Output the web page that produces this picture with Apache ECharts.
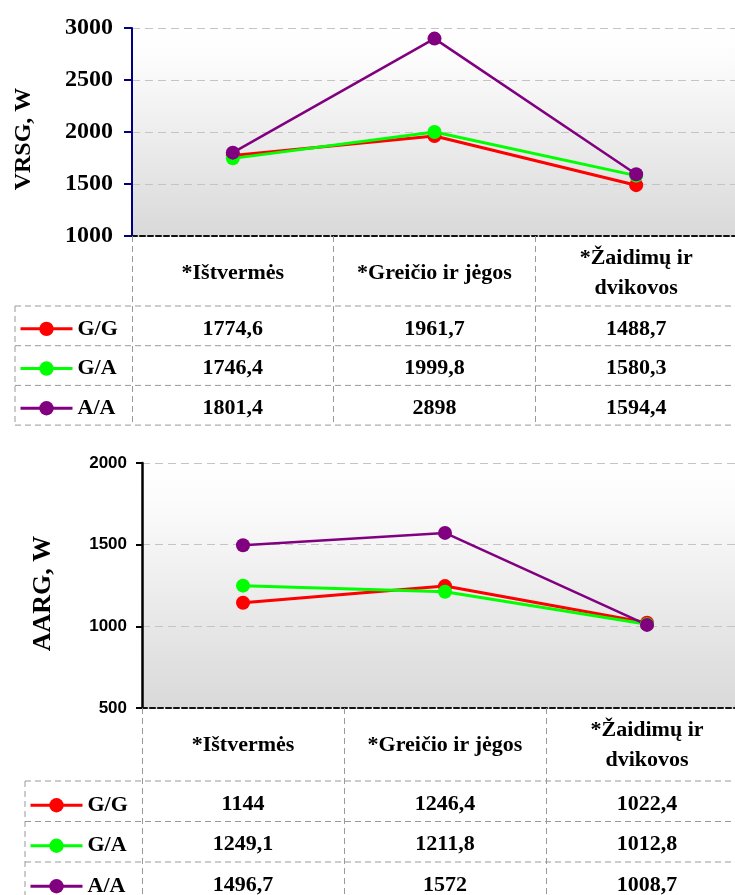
<!DOCTYPE html>
<html>
<head>
<meta charset="utf-8">
<script src="https://cdn.jsdelivr.net/npm/echarts@6/dist/echarts.min.js"></script>
<style>
  html, body { margin: 0; padding: 0; background: #fff; }
  #main { width: 735px; height: 895px; }
</style>
</head>
<body>
<div id="main"></div>
<script>
// categories and groups
const categories = ["*Ištvermės", "*Greičio ir jėgos", "*Žaidimų ir\ndvikovos"];
const groupNames = ["G/G", "G/A", "A/A"];
const groupColors = ["#ff0000", "#00ff00", "#800080"];

// VRSG, W (top chart)
const vrsgGG = [1774.6, 1961.7, 1488.7];
const vrsgGA = [1746.4, 1999.8, 1580.3];
const vrsgAA = [1801.4, 2898, 1594.4];

// AARG, W (bottom chart)
const aargGG = [1144, 1246.4, 1022.4];
const aargGA = [1249.1, 1211.8, 1012.8];
const aargAA = [1496.7, 1572, 1008.7];

const vrsg = [vrsgGG, vrsgGA, vrsgAA];
const aarg = [aargGG, aargGA, aargAA];

const serif = "Liberation Serif";
const sans = "Liberation Sans";

const chart = echarts.init(document.getElementById("main"));

const plotBg = new echarts.graphic.LinearGradient(0, 0, 0, 1, [
  { offset: 0, color: "#ffffff" },
  { offset: 0.15, color: "#fcfcfc" },
  { offset: 1, color: "#d9d9d9" },
]);

function xAxisFor(gridIndex, tickLen) {
  return {
    type: "category",
    gridIndex: gridIndex,
    data: categories,
    boundaryGap: true,
    axisLine: { lineStyle: { color: "#111", width: 2, type: [5, 3] } },
    axisTick: {
      show: true,
      length: tickLen,
      lineStyle: { color: "#999", width: 1, type: [6, 4] },
    },
    axisLabel: {
      interval: 0,
      margin: 37,
      verticalAlign: "middle",
      color: "#000",
      fontFamily: serif,
      fontWeight: "bold",
      fontSize: 22,
      lineHeight: 30,
    },
    splitLine: { show: false },
  };
}

function seriesFor(values, gridIndex) {
  return values.map((data, i) => ({
    type: "line",
    name: groupNames[i],
    xAxisIndex: gridIndex,
    yAxisIndex: gridIndex,
    data: data,
    symbol: "circle",
    symbolSize: 14,
    color: groupColors[i],
    lineStyle: { width: i === 2 ? 2.5 : 3, color: groupColors[i] },
    itemStyle: { color: groupColors[i] },
  }));
}

function legendFor(left, top, lineHeight) {
  return {
    data: groupNames,
    orient: "vertical",
    left: left,
    top: top,
    height: 140,
    padding: 0,
    itemWidth: 52,
    itemHeight: 18,
    itemGap: 0,
    selectedMode: false,
    lineStyle: { width: 3 },
    textStyle: {
      color: "#000",
      fontFamily: serif,
      fontWeight: "bold",
      fontSize: 22,
      lineHeight: lineHeight,
    },
  };
}

const plainNumber = (v) => String(v);

chart.setOption({
  animation: false,
  backgroundColor: "#fff",
  grid: [
    { left: 132, top: 28, width: 605, height: 208, show: true, backgroundColor: plotBg, borderWidth: 0, outerBoundsMode: "none" },
    { left: 142, top: 463, width: 606, height: 245, show: true, backgroundColor: plotBg, borderWidth: 0, outerBoundsMode: "none" },
  ],
  legend: [legendFor(19, 309, 39.7), legendFor(29, 785, 40.5)],
  xAxis: [xAxisFor(0, 189), xAxisFor(1, 200)],
  yAxis: [
    {
      type: "value",
      gridIndex: 0,
      min: 1000,
      max: 3000,
      interval: 500,
      name: "VRSG, W",
      nameLocation: "middle",
      nameRotate: 90,
      nameGap: 96,
      nameTextStyle: { color: "#000", fontFamily: serif, fontWeight: "bold", fontSize: 24, padding: [0, 14, 0, 0] },
      axisLine: { show: true, lineStyle: { color: "#000080", width: 2 } },
      axisTick: { show: true, length: 8, lineStyle: { color: "#000080", width: 2 } },
      axisLabel: { margin: 19, color: "#000", fontFamily: serif, fontWeight: "bold", fontSize: 24, formatter: plainNumber },
      splitLine: { lineStyle: { color: "#c4c4c4", width: 1, type: [8, 5] } },
    },
    {
      type: "value",
      gridIndex: 1,
      min: 500,
      max: 2000,
      interval: 500,
      name: "AARG, W",
      nameLocation: "middle",
      nameRotate: 90,
      nameGap: 86,
      nameTextStyle: { color: "#000", fontFamily: serif, fontWeight: "bold", fontSize: 26, padding: [0, 16, 0, 0] },
      axisLine: { show: true, lineStyle: { color: "#000", width: 2.5 } },
      axisTick: { show: true, length: 6, lineStyle: { color: "#000", width: 2 } },
      axisLabel: { margin: 15, color: "#000", fontFamily: sans, fontWeight: "bold", fontSize: 17, formatter: plainNumber },
      splitLine: { lineStyle: { color: "#c4c4c4", width: 1, type: [8, 5] } },
    },
  ],
  series: seriesFor(vrsg, 0).concat(seriesFor(aarg, 1)),
});

// data tables under each plot
const tables = [
  { grid: 0, values: vrsg, rowTop: 306, rowH: 39.7, boxLeft: 15 },
  { grid: 1, values: aarg, rowTop: 781, rowH: 40.5, boxLeft: 25 },
];

const dash = { stroke: "#999", lineWidth: 1, lineDash: [6, 4] };
const elements = [];

tables.forEach((t) => {
  const colX = categories.map((c, j) => chart.convertToPixel({ xAxisIndex: t.grid }, j));
  const bottom = t.rowTop + t.rowH * 3;
  for (let r = 0; r <= 3; r++) {
    const y = t.rowTop + t.rowH * r;
    elements.push({ type: "line", silent: true, shape: { x1: t.boxLeft, y1: y, x2: 735, y2: y }, style: dash });
  }
  elements.push({ type: "line", silent: true, shape: { x1: t.boxLeft, y1: t.rowTop, x2: t.boxLeft, y2: bottom }, style: dash });
  t.values.forEach((row, r) => {
    row.forEach((v, j) => {
      elements.push({
        type: "text",
        silent: true,
        x: colX[j],
        y: t.rowTop + t.rowH * r + t.rowH / 2 + 3,
        style: {
          text: String(v).replace(".", ","),
          align: "center",
          verticalAlign: "middle",
          font: 'bold 22px "' + serif + '"',
          fill: "#000",
        },
      });
    });
  });
});

chart.setOption({ graphic: elements });
</script>
</body>
</html>
